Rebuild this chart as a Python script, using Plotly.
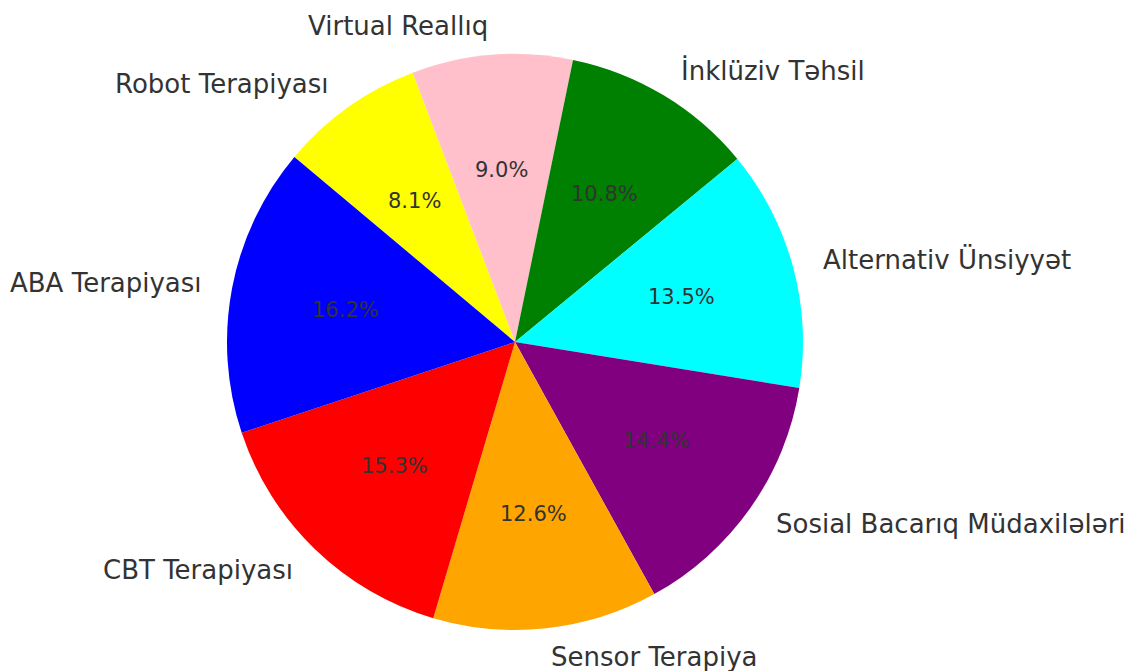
import math
import plotly.graph_objects as go

labels = ["ABA Terapiyası", "CBT Terapiyası", "Sensor Terapiya", "Sosial Bacarıq Müdaxilələri",
          "Alternativ Ünsiyyət", "İnklüziv Təhsil", "Virtual Reallıq", "Robot Terapiyası"]
values = [18, 17, 14, 16, 15, 12, 10, 9]
colors = ["blue", "red", "orange", "purple", "cyan", "green", "pink", "yellow"]

W, H = 1130, 671
CX, CY, R = 515, 342, 288
START = 140  # degrees, counterclockwise from 3 o'clock

# Plotly draws clockwise reliably from `rotation`; feed the slices in reverse order
fig = go.Figure()
fig.add_trace(go.Pie(
    labels=labels[::-1], values=values[::-1], sort=False, direction="clockwise",
    rotation=90 - START, marker=dict(colors=colors[::-1], line=dict(width=0)),
    textinfo="none", showlegend=False, hoverinfo="label+percent",
    domain=dict(x=[(CX - R) / W, (CX + R) / W], y=[1 - (CY + R) / H, 1 - (CY - R) / H]),
))

total = sum(values)
cum = 0
font = "DejaVu Sans"
for lab, v in zip(labels, values):
    mid = math.radians(START + 360 * (cum + v / 2) / total)
    cum += v
    c, s = math.cos(mid), math.sin(mid)
    lx = CX + 1.1 * R * c
    ly = CY - 1.1 * R * s
    fig.add_annotation(x=lx / W, y=1 - ly / H, xref="paper", yref="paper",
                       text=lab, showarrow=False,
                       xanchor="left" if c > 0 else "right", yanchor="middle",
                       font=dict(family=font, size=26, color="#333333"))
    px = CX + 0.6 * R * c
    py = CY - 0.6 * R * s
    fig.add_annotation(x=px / W, y=1 - py / H, xref="paper", yref="paper",
                       text=f"{100 * v / total:.1f}%", showarrow=False,
                       xanchor="center", yanchor="middle",
                       font=dict(family=font, size=21, color="#333333"))

fig.update_layout(width=W, height=H, margin=dict(l=0, r=0, t=0, b=0),
                  paper_bgcolor="white", plot_bgcolor="white")
fig.write_html("out.html", config={"displayModeBar": False},
               post_script="document.body.style.margin='0';")
